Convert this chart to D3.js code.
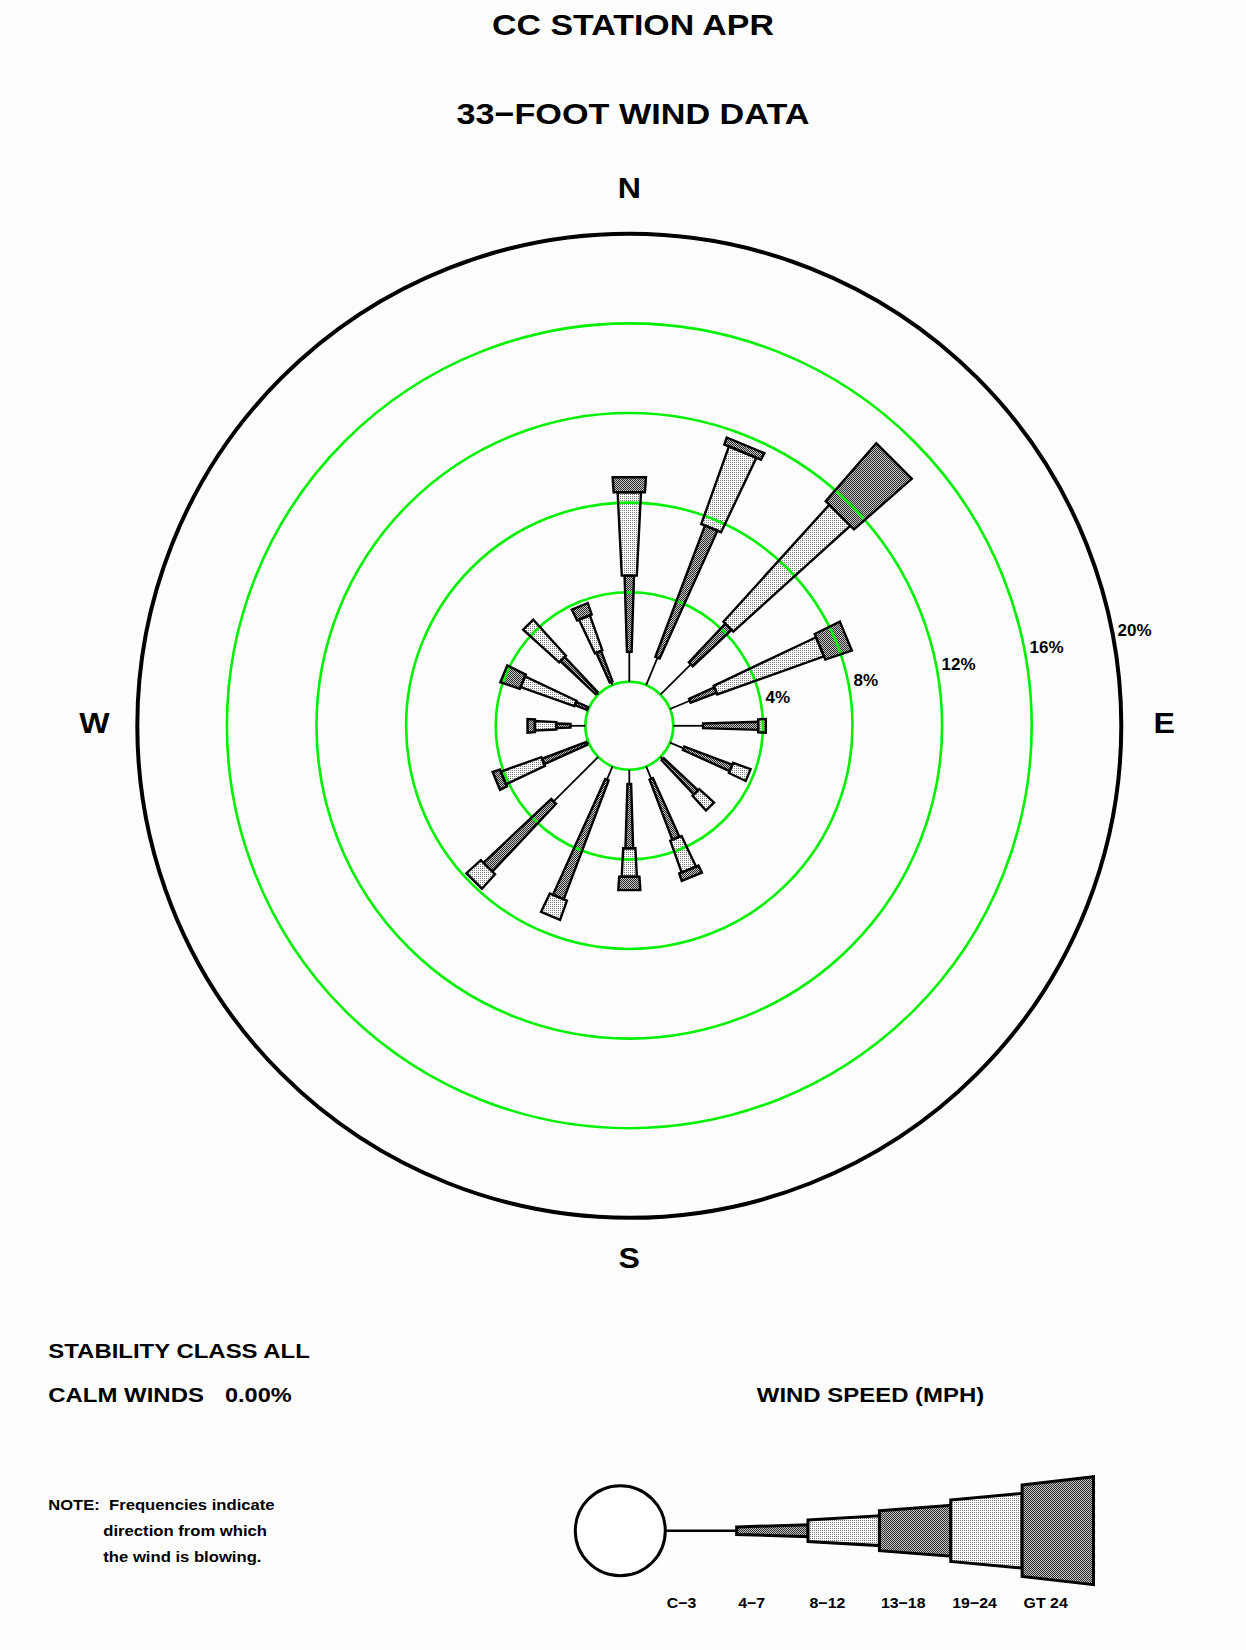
<!DOCTYPE html>
<html>
<head>
<meta charset="utf-8">
<script src="https://cdn.jsdelivr.net/npm/d3@7"></script>
<style>
html,body{margin:0;padding:0;background:#fcfdfc;}
svg{display:block;}
text{font-family:"Liberation Sans",Arial,Helvetica,sans-serif;font-weight:bold;fill:#000;}
</style>
</head>
<body>
<svg id="chart" width="1246" height="1650"></svg>
<script>
// ---------------- DATA ----------------
const directions = ["N","NNE","NE","ENE","E","ESE","SE","SSE","S","SSW","SW","WSW","W","WNW","NW","NNW"];
const speedLabels = ["C\u22123","4\u22127","8\u221212","13\u221218","19\u221224","GT 24"];
// frequency (%) per direction for each speed class (MPH)
const calmTo3 = [1.34,1.33,1.92,0.96,1.33,0.66,0.14,0.60,0.63,0.64,2.81,0.10,0.66,0.05,0.10,0.16];
const speed4to7 = [3.40,6.26,2.37,1.24,2.46,2.29,2.10,2.87,2.87,5.67,4.15,2.10,0.63,0.59,2.15,1.45];
const speed8to12 = [3.72,3.67,7.04,5.05,0.34,0.83,0.89,1.51,1.27,0.91,0.87,1.92,0.96,2.54,2.17,1.66];
const speed13to18 = [0.67,0.33,3.42,1.25,0,0,0,0.35,0.60,0,0,0.34,0.33,0.92,0,0.54];
const speed19to24 = [0,0,0,0,0,0,0,0,0,0,0,0,0,0,0,0];
const speedGT24 = [0,0,0,0,0,0,0,0,0,0,0,0,0,0,0,0];
const ringTicks = [4,8,12,16,20];
const ringLabels = ["4%","8%","12%","16%","20%"];
const compassLabels = ["N","E","S","W"];
const compassDegrees = [0,90,180,270];
const titleLines = ["CC STATION APR","33\u2212FOOT WIND DATA"];
const calmWinds = "0.00%";

// ---------------- SETUP ----------------
const W = 1246, H = 1650;
const cx = 629.3, cy = 725.8;
const svg = d3.select("#chart");
svg.append("rect").attr("width", W).attr("height", H).attr("fill", "#fcfdfc");

const defs = svg.append("defs");
const dark = defs.append("pattern").attr("id","dark").attr("patternUnits","userSpaceOnUse")
  .attr("width",2).attr("height",2);
dark.append("rect").attr("width",2).attr("height",2).attr("fill","#c4c4c4");
dark.append("rect").attr("width",1).attr("height",1).attr("fill","#2c2c2c");
dark.append("rect").attr("x",1).attr("y",1).attr("width",1).attr("height",1).attr("fill","#2c2c2c");
const light = defs.append("pattern").attr("id","light").attr("patternUnits","userSpaceOnUse")
  .attr("width",2).attr("height",2);
light.append("rect").attr("width",2).attr("height",2).attr("fill","#ffffff");
light.append("rect").attr("width",1).attr("height",1).attr("fill","#7c7c7c");

const fillFor = k => (k % 2 === 1) ? "url(#dark)" : "url(#light)";
const roseRatio = [0, 0.063, 0.10, 0.134, 0.165, 0.20];
const legendRatio = [0, 0.064, 0.115, 0.154, 0.186, 0.228];

const rScale = d3.scaleLinear().domain([0, 20]).range([44, 492]);
const aScale = d3.scaleLinear().domain([0, directions.length]).range([0, 360]);

function pt(deg, rr, off) {
  const a = deg * Math.PI / 180;
  return [cx + rr * Math.sin(a) + off * Math.cos(a), cy - rr * Math.cos(a) + off * Math.sin(a)];
}
// widen glyphs like the reference's raster font
function stretch(sel, f) {
  sel.each(function() {
    const w = this.getComputedTextLength();
    d3.select(this).attr("textLength", w * f).attr("lengthAdjust", "spacingAndGlyphs");
  });
  return sel;
}

// stack the speed classes
const keys = ["c3","s4","s8","s13","s19","s24"];
const seriesArr = [calmTo3, speed4to7, speed8to12, speed13to18, speed19to24, speedGT24];
const rows = directions.map((d, i) => {
  const o = {dir: d};
  keys.forEach((k, j) => o[k] = seriesArr[j][i]);
  return o;
});
const stacked = d3.stack().keys(keys)(rows);

// build segments
const segs = [];
stacked.forEach((layer, k) => {
  if (k === 0) return;
  layer.forEach((d, i) => {
    if (d[1] - d[0] <= 0.001) return;
    const deg = aScale(i);
    const r0 = rScale(d[0]), r1 = rScale(d[1]);
    const h0 = roseRatio[k] * r0 / 2, h1 = roseRatio[k] * r1 / 2;
    segs.push({k, pts: [pt(deg, r0, -h0), pt(deg, r1, -h1), pt(deg, r1, h1), pt(deg, r0, h0)]});
  });
});
const line = d3.line();

// fills
svg.append("g").selectAll("path").data(segs).join("path")
  .attr("d", d => line(d.pts) + "Z")
  .attr("fill", d => fillFor(d.k)).attr("stroke", "none");

// grid rings (over fills)
const grid = svg.append("g");
grid.selectAll("circle.g").data([0, ...ringTicks.filter(t => t < 20)]).join("circle")
  .attr("cx", cx).attr("cy", cy).attr("r", d => rScale(d))
  .attr("fill", "none").attr("stroke", "#00f000").attr("stroke-width", 2.6);
grid.append("circle").attr("cx", cx).attr("cy", cy).attr("r", rScale(20))
  .attr("fill", "none").attr("stroke", "#000").attr("stroke-width", 4);

// calm-to-3 lines
svg.append("g").selectAll("line").data(stacked[0].map((d, i) => ({d, i})).filter(o => o.d[1] > 0))
  .join("line")
  .attr("x1", o => pt(aScale(o.i), rScale(0), 0)[0])
  .attr("y1", o => pt(aScale(o.i), rScale(0), 0)[1])
  .attr("x2", o => pt(aScale(o.i), rScale(o.d[1]), 0)[0])
  .attr("y2", o => pt(aScale(o.i), rScale(o.d[1]), 0)[1])
  .attr("stroke", "#000").attr("stroke-width", 1.8);

// outlines
svg.append("g").selectAll("path").data(segs).join("path")
  .attr("d", d => line(d.pts) + "Z")
  .attr("fill", "none").attr("stroke", "#000").attr("stroke-width", 2.4)
  .attr("stroke-linejoin", "miter");

// ring labels
const phi = 10.8 * Math.PI / 180;
svg.append("g").selectAll("text").data(ringTicks).join("text")
  .attr("x", t => cx + rScale(t) * Math.cos(phi) + 5)
  .attr("y", t => cy - rScale(t) * Math.sin(phi) + 2.5)
  .attr("font-size", 17)
  .text((t, i) => ringLabels[i]);

// compass labels
const rLab = rScale(20) + 43;
stretch(svg.append("g").selectAll("text").data(compassLabels).join("text")
  .attr("x", (d, i) => pt(compassDegrees[i], rLab, 0)[0])
  .attr("y", (d, i) => pt(compassDegrees[i], rLab, 0)[1] + 7.5)
  .attr("text-anchor", "middle").attr("font-size", 30)
  .text(d => d), 1.07);

// titles
stretch(svg.append("text").attr("x", 633).attr("y", 34.5).attr("text-anchor", "middle")
  .attr("font-size", 30).text(titleLines[0]), 1.13);
stretch(svg.append("text").attr("x", 633).attr("y", 123.8).attr("text-anchor", "middle")
  .attr("font-size", 30).text(titleLines[1]), 1.14);

// bottom-left texts
stretch(svg.append("text").attr("x", 48.3).attr("y", 1358.3).attr("font-size", 21)
  .text("STABILITY CLASS ALL"), 1.14);
stretch(svg.append("text").attr("x", 48.3).attr("y", 1401.7).attr("font-size", 21)
  .text("CALM WINDS"), 1.14);
stretch(svg.append("text").attr("x", 225).attr("y", 1401.7).attr("font-size", 21)
  .text(calmWinds), 1.12);
stretch(svg.append("text").attr("x", 48.3).attr("y", 1510).attr("font-size", 15)
  .text("NOTE:"), 1.1);
stretch(svg.append("text").attr("x", 109).attr("y", 1510).attr("font-size", 15)
  .text("Frequencies indicate"), 1.11);
stretch(svg.append("text").attr("x", 103.3).attr("y", 1535.7).attr("font-size", 15)
  .text("direction from which"), 1.11);
stretch(svg.append("text").attr("x", 103.3).attr("y", 1561.5).attr("font-size", 15)
  .text("the wind is blowing."), 1.11);

// legend
stretch(svg.append("text").attr("x", 870.5).attr("y", 1401.7).attr("text-anchor", "middle")
  .attr("font-size", 21).text("WIND SPEED (MPH)"), 1.14);
const lcy = 1530.7, lcr = 45;
const lx = d3.scaleLinear().domain([0, 6]).range([665.3, 1093.5]);
const lcx = lx(0) - lcr;
const lg = svg.append("g");
lg.append("circle").attr("cx", lcx).attr("cy", lcy).attr("r", lcr)
  .attr("fill", "#fff").attr("stroke", "#000").attr("stroke-width", 3);
lg.append("line").attr("x1", lx(0)).attr("x2", lx(1)).attr("y1", lcy).attr("y2", lcy)
  .attr("stroke", "#000").attr("stroke-width", 2.6);
const legSegs = d3.range(1, 6).map(k => {
  const x0 = lx(k), x1 = lx(k + 1);
  const h0 = legendRatio[k] * (x0 - lcx) / 2, h1 = legendRatio[k] * (x1 - lcx) / 2;
  return {k, pts: [[x0, lcy - h0], [x1, lcy - h1], [x1, lcy + h1], [x0, lcy + h0]]};
});
lg.selectAll("path").data(legSegs).join("path")
  .attr("d", d => line(d.pts) + "Z")
  .attr("fill", d => fillFor(d.k)).attr("stroke", "#000").attr("stroke-width", 3)
  .attr("stroke-linejoin", "miter");
stretch(lg.selectAll("text").data(speedLabels).join("text")
  .attr("x", (d, i) => lx(i) + 1.5).attr("y", 1607.5)
  .attr("font-size", 15)
  .text(d => d), 1.06);
</script>
</body>
</html>
